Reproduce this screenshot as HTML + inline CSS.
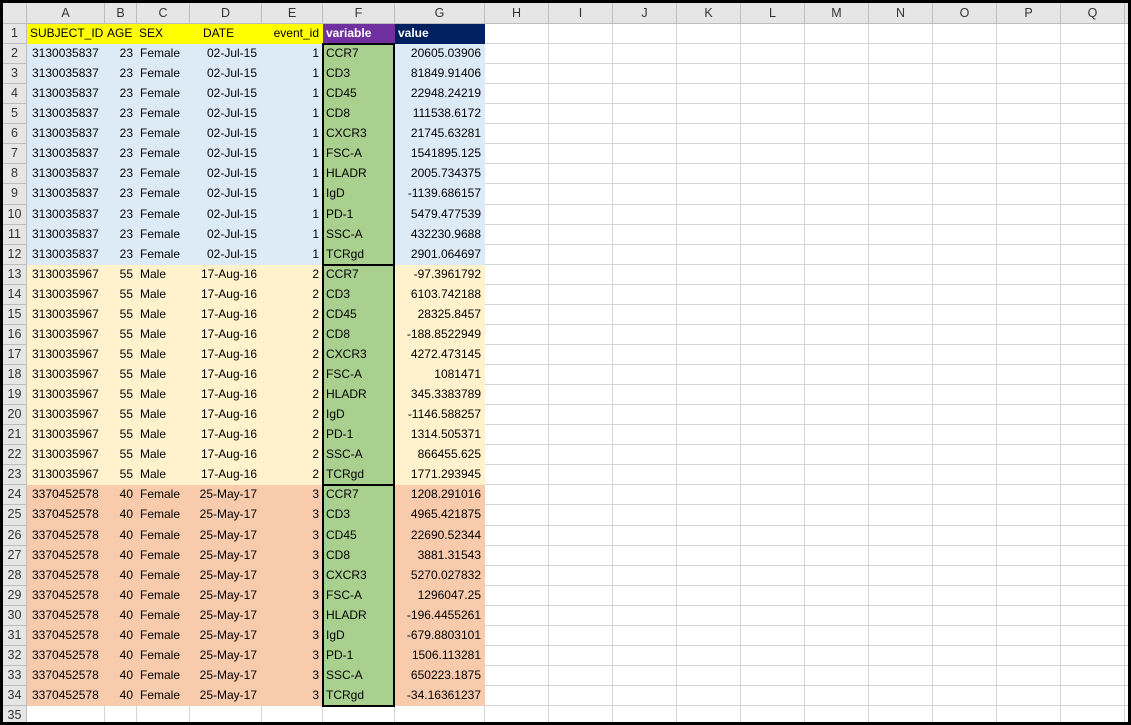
<!DOCTYPE html>
<html><head><meta charset="utf-8"><style>
html,body{margin:0;padding:0;background:#fff;}
#sheet{position:relative;width:1131px;height:725px;overflow:hidden;background:#fff;font-family:"Liberation Sans",Arial,sans-serif;font-size:12px;color:#000;}
.c{position:absolute;box-sizing:border-box;border-right:1px solid #d4d4d4;border-bottom:1px solid #d4d4d4;white-space:nowrap;overflow:visible;line-height:19px;}
.nb{border-color:transparent;}
.h{background:#e6e6e6;color:#333;text-align:center;border-color:#bdbdbd;font-size:12.5px;}
.frame{position:absolute;border:3px solid #000;left:0;top:0;width:1131px;height:725px;box-sizing:border-box;pointer-events:none;}
.box{position:absolute;border:2px solid #000;box-sizing:border-box;}
</style></head><body>
<div id="sheet"></div>
<script>
const subjects=["3130035837","3130035967","3370452578"];
const ages=["23","55","40"];
const sexes=["Female","Male","Female"];
const dates=["02-Jul-15","17-Aug-16","25-May-17"];
const variables=["CCR7","CD3","CD45","CD8","CXCR3","FSC-A","HLADR","IgD","PD-1","SSC-A","TCRgd"];
const values=[
["20605.03906","81849.91406","22948.24219","111538.6172","21745.63281","1541895.125","2005.734375","-1139.686157","5479.477539","432230.9688","2901.064697"],
["-97.3961792","6103.742188","28325.8457","-188.8522949","4272.473145","1081471","345.3383789","-1146.588257","1314.505371","866455.625","1771.293945"],
["1208.291016","4965.421875","22690.52344","3881.31543","5270.027832","1296047.25","-196.4455261","-679.8803101","1506.113281","650223.1875","-34.16361237"]];
const groupFill=["#ddebf7","#fff2cc","#f8cbad"];
const colLetters=["A","B","C","D","E","F","G","H","I","J","K","L","M","N","O","P","Q"];
const colX=[3,27,105,137,190,262,323,395,485,549,613,677,741,805,869,933,997,1061,1125,1131];
const rowTop=r=>24+(r-1)*20.06;
const sheet=document.getElementById('sheet');
function cell(x,y,w,h,txt,opts){
  const d=document.createElement('div');d.className='c'+(opts.h?' h':'')+(opts.nb?' nb':'');
  d.style.left=x+'px';d.style.top=y+'px';d.style.width=w+'px';d.style.height=h+'px';
  if(opts.bg)d.style.background=opts.bg;
  if(opts.color)d.style.color=opts.color;
  if(opts.bold)d.style.fontWeight='bold';
  d.style.textAlign=opts.align||'left';
  d.style.padding=opts.align==='right'?'0 3px 0 0':(opts.align==='center'?'0':'0 0 0 '+(opts.pl||3)+'px');
  d.textContent=txt;
  sheet.appendChild(d);return d;
}
let d=cell(3,3,24,21,'',{h:1});


for(let i=0;i<18;i++){
  const t=i<17?colLetters[i]:'';
  d=cell(colX[i+1],3,colX[i+2]-colX[i+1],21,t,{h:1,align:'center'});
  d.style.lineHeight='20px';
  
  
}
for(let r=1;r<=35;r++){
  const y=Math.round(rowTop(r)),h=Math.round(rowTop(r+1))-y;
  d=cell(3,y,24,h,String(r),{h:1,align:'center'});
  
  
  let texts=new Array(18).fill(''),bgs=new Array(18).fill(null),aligns=new Array(18).fill('left'),colors=new Array(18).fill(null),pls=new Array(18).fill(3);
  if(r===1){
    texts[0]='SUBJECT_ID';texts[1]='AGE';texts[2]='SEX';texts[3]='DATE';texts[4]='event_id';texts[5]='variable';texts[6]='value';
    for(let i=0;i<5;i++)bgs[i]='#ffff00';
    bgs[5]='#7030a0';bgs[6]='#002060';colors[5]='#fff';colors[6]='#fff';
    aligns[4]='right';pls[3]=13;pls[1]=2;pls[2]=2;
  } else if(r<=34){
    const g=Math.floor((r-2)/11),k=(r-2)%11;
    texts=[subjects[g],ages[g],sexes[g],dates[g],String(g+1),variables[k],values[g][k]];
    for(let i=0;i<7;i++)bgs[i]=groupFill[g];
    bgs[5]='#a9d08e';
    aligns=['left','right','left','right','right','left','right'];
    pls[0]=5;
  }
  for(let i=0;i<17;i++){
    const opt={bg:bgs[i],align:aligns[i]||'left',color:colors[i],pl:pls[i],nb:!!bgs[i]};
    if(r===1&&i>=5)opt.bold=true;
    d=cell(colX[i+1],y,colX[i+2]-colX[i+1],h,texts[i]||'',opt);
    if(i===3&&r>1&&r<=34)d.style.paddingRight='4px';
    
    
  }
  d=cell(1125,y,6,h,'',{});
  
  
}
for(let g=0;g<3;g++){
  const b=document.createElement('div');b.className='box';
  const y1=Math.round(rowTop(2+g*11)),y2=Math.round(rowTop(13+g*11));
  b.style.left=(colX[6]-1)+'px';b.style.top=(y1-1)+'px';b.style.width=(colX[7]-colX[6]+1)+'px';b.style.height=(y2-y1+2)+'px';
  
  
  sheet.appendChild(b);
}
const f=document.createElement('div');f.className='frame';


sheet.appendChild(f);
</script>
</body></html>
